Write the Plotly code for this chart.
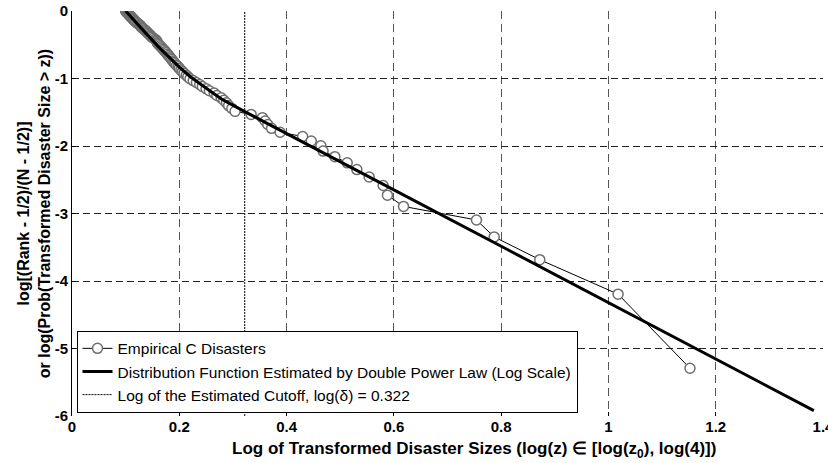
import plotly.graph_objects as go

# Empirical points: log of transformed disaster sizes (x) and log rank-based CCDF (y)
log_z = [
    0.100, 0.101, 0.102, 0.104, 0.105, 0.106, 0.107, 0.108, 0.110, 0.111,
    0.112, 0.114, 0.115, 0.116, 0.118, 0.119, 0.121, 0.123, 0.125, 0.127,
    0.128, 0.129, 0.131, 0.133, 0.135, 0.137, 0.139, 0.140, 0.142, 0.144,
    0.146, 0.147, 0.149, 0.152, 0.155, 0.157, 0.158, 0.159, 0.160, 0.162,
    0.164, 0.166, 0.168, 0.170, 0.172, 0.174, 0.176, 0.178, 0.180, 0.182,
    0.184, 0.186, 0.188, 0.190, 0.192, 0.195, 0.198, 0.200, 0.203, 0.206,
    0.209, 0.213, 0.216, 0.220, 0.226, 0.232, 0.238, 0.243, 0.250, 0.256,
    0.265, 0.270, 0.278, 0.283, 0.288, 0.292, 0.298, 0.304, 0.334, 0.355,
    0.360, 0.365, 0.372, 0.388, 0.430, 0.446, 0.464, 0.468, 0.490, 0.513,
    0.531, 0.554, 0.580, 0.588, 0.618, 0.754, 0.787, 0.872, 1.018, 1.152,
]
log_ccdf = [
    0.000, -0.010, -0.020, -0.031, -0.041, -0.052, -0.062, -0.073, -0.084, -0.095,
    -0.106, -0.117, -0.129, -0.140, -0.152, -0.163, -0.175, -0.187, -0.200, -0.212,
    -0.224, -0.237, -0.250, -0.263, -0.276, -0.289, -0.303, -0.317, -0.331, -0.345,
    -0.359, -0.373, -0.388, -0.403, -0.418, -0.434, -0.449, -0.465, -0.481, -0.498,
    -0.514, -0.531, -0.548, -0.566, -0.584, -0.602, -0.620, -0.639, -0.659, -0.678,
    -0.698, -0.719, -0.739, -0.761, -0.782, -0.805, -0.827, -0.851, -0.875, -0.899,
    -0.924, -0.950, -0.976, -1.003, -1.031, -1.059, -1.089, -1.119, -1.150, -1.182,
    -1.216, -1.250, -1.286, -1.323, -1.361, -1.401, -1.443, -1.487, -1.532, -1.580,
    -1.630, -1.682, -1.738, -1.797, -1.859, -1.926, -1.998, -2.075, -2.158, -2.249,
    -2.349, -2.460, -2.585, -2.728, -2.895, -3.096, -3.347, -3.684, -4.195, -5.293,
]

# Fitted double power law curve (log scale)
fit_x = [0.100, 0.120, 0.140, 0.160, 0.180, 0.200, 0.220, 0.240, 0.260, 0.280,
         0.300, 0.322, 0.600, 1.000, 1.383]
fit_y = [0.000, -0.180, -0.350, -0.520, -0.680, -0.830, -0.970, -1.090, -1.200, -1.310,
         -1.400, -1.490, -2.650, -4.320, -5.920]

cutoff = 0.322
cutoff_y = [-6, 0]

x_ticks = [0, 0.2, 0.4, 0.6, 0.8, 1.0, 1.2, 1.4]
x_tick_labels = ["0", "0.2", "0.4", "0.6", "0.8", "1", "1.2", "1.4"]
y_ticks = [0, -1, -2, -3, -4, -5, -6]
y_tick_labels = ["0", "-1", "-2", "-3", "-4", "-5", "-6"]

x_title = "Log of Transformed Disaster Sizes (log(z) ∈ [log(z<sub>0</sub>), log(4)])"
y_title = "log[(Rank - 1/2)/(N - 1/2)]<br>or log(Prob(Transformed Disaster Size > z))"

FONT = "Liberation Sans, Arial, Helvetica, sans-serif"

fig = go.Figure()
fig.add_trace(go.Scatter(
    x=log_z, y=log_ccdf, mode="lines+markers",
    name="Empirical C Disasters",
    line=dict(color="black", width=1),
    marker=dict(symbol="circle", size=10, color="white",
                line=dict(color="#6e6e6e", width=1.5)),
))
fig.add_trace(go.Scatter(
    x=fit_x, y=fit_y, mode="lines",
    name="Distribution Function Estimated by Double Power Law (Log Scale)",
    line=dict(color="black", width=3),
))
fig.add_trace(go.Scatter(
    x=[cutoff, cutoff], y=cutoff_y, mode="lines",
    name="Log of the Estimated Cutoff, log(δ) = 0.322",
    line=dict(color="black", width=1, dash="2px,1px"),
))

fig.update_layout(
    template="none",
    width=828, height=463,
    margin=dict(l=72, r=5, t=11, b=47, pad=0),
    paper_bgcolor="white", plot_bgcolor="white",
    font=dict(family=FONT, color="black", size=15),
    showlegend=True,
    hovermode=False,
    legend=dict(
        x=0.006, y=0.008, xanchor="left", yanchor="bottom",
        bgcolor="white", bordercolor="black", borderwidth=1,
        font=dict(family=FONT, size=15.5, color="black"),
        tracegroupgap=0, itemwidth=30,
    ),
    annotations=[dict(
        text=x_title, xref="paper", yref="paper",
        x=0.535, y=-0.084, xanchor="center", yanchor="middle",
        showarrow=False, font=dict(family=FONT, size=17, weight="bold", color="black"),
    )],
)
fig.update_xaxes(
    range=[0, 1.4], tickvals=x_ticks, ticktext=x_tick_labels,
    automargin=False,
    showgrid=True, gridcolor="#555555", griddash="8px,5px", gridwidth=1,
    showline=False, zeroline=False,
    ticks="inside", ticklen=4, tickcolor="black",
    tickfont=dict(family=FONT, size=15, weight="bold"),
    ticklabeloverflow="allow",
)
fig.update_yaxes(
    range=[-6, 0], tickvals=y_ticks, ticktext=y_tick_labels,
    automargin=False,
    showgrid=True, gridcolor="#222222", griddash="7px,4px", gridwidth=1,
    showline=True, linecolor="black", linewidth=1, zeroline=False,
    ticks="inside", ticklen=4, tickcolor="black",
    tickfont=dict(family=FONT, size=15, weight="bold"),
    ticklabeloverflow="allow",
    title=dict(text=y_title, font=dict(family=FONT, size=16, weight="bold")),
)

fig.write_html(
    "out.html",
    config={"displayModeBar": False, "staticPlot": True},
    post_script="document.body.style.margin='0px';document.body.style.overflow='hidden';",
)
